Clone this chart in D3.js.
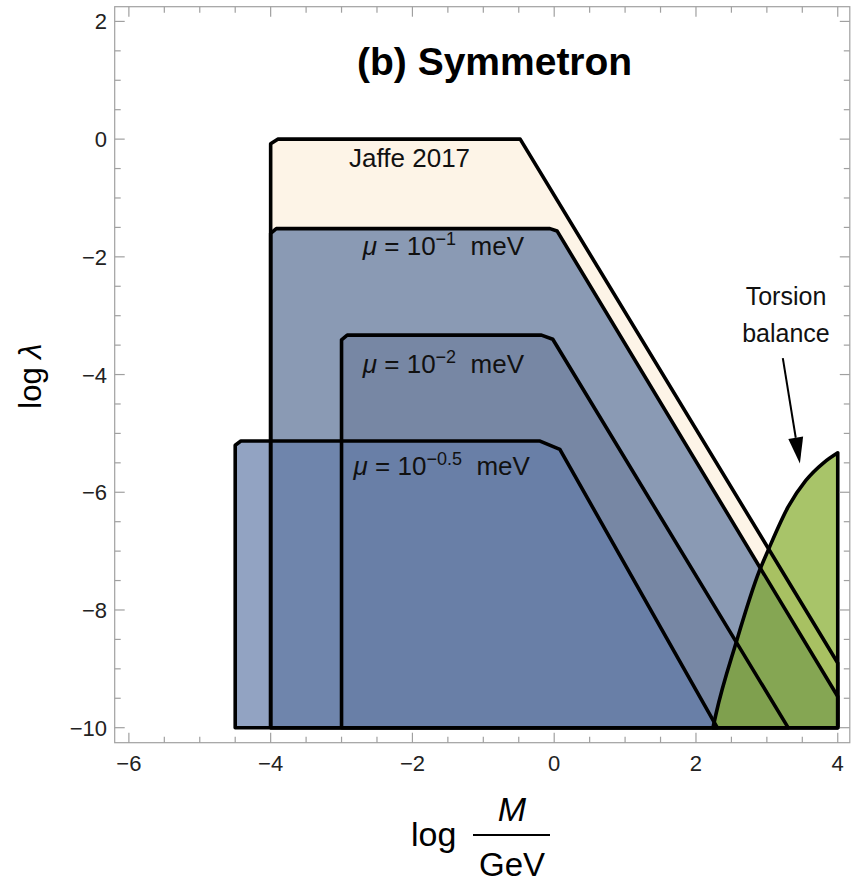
<!DOCTYPE html>
<html>
<head>
<meta charset="utf-8">
<script src="https://cdn.jsdelivr.net/npm/d3@7"></script>
<style>
  html, body { margin: 0; padding: 0; background: #fff; }
  svg { display: block; font-family: "Liberation Sans", Arial, sans-serif; }
</style>
</head>
<body>
<svg id="chart" width="861" height="883"></svg>
<script>
// Excluded regions in the (log M/GeV, log λ) plane, outlined as polygons
const jaffeRegion = [[-4,-10],[-4,-0.08],[-3.9,0],[-0.48,0],[4,-8.9],[4,-10]];
const mu1Region   = [[-4,-10],[-4,-1.6],[-3.92,-1.52],[-0.06,-1.52],[0.04,-1.56],[4,-9.47],[4,-10]];
const mu2Region   = [[-3,-10],[-3,-3.41],[-2.92,-3.33],[-0.18,-3.33],[-0.02,-3.4],[3.3,-10]];
const mu05Region  = [[-4.5,-10],[-4.5,-5.2],[-4.42,-5.13],[-0.2,-5.13],[0.08,-5.27],[2.3,-10]];
// Torsion-balance boundary curve (closed against the right edge and floor)
const torsionCurve = [[2.24,-10],[2.28,-9.78],[2.57,-8.54],[2.89,-7.35],[3.02,-6.98],[3.3,-6.25],[3.55,-5.8],[3.8,-5.5],[4,-5.33]];
const torsionClose = [[4,-5.33],[4,-10]];

// Axis ticks
const xMajor = [-6,-4,-2,0,2,4];
const yMajor = [2,0,-2,-4,-6,-8,-10];
const xMinor = d3.range(-6, 4.01, 0.5).filter(v => !xMajor.includes(v));
const yMinor = d3.range(-10, 2.01, 0.5).filter(v => !yMajor.includes(v));

// Annotation anchors (data coordinates)
const labels = [
  {parts: [{t: "Jaffe 2017"}], at: [-2.04, -0.47], anchor: "middle"},
  {parts: [{t: "μ", i: true}, {t: " = 10"}, {t: "−1", sup: true}, {t: "  meV"}], at: [-2.7, -1.97], anchor: "start"},
  {parts: [{t: "μ", i: true}, {t: " = 10"}, {t: "−2", sup: true}, {t: "  meV"}], at: [-2.7, -3.98], anchor: "start"},
  {parts: [{t: "μ", i: true}, {t: " = 10"}, {t: "−0.5", sup: true}, {t: "  meV"}], at: [-2.83, -5.71], anchor: "start"}
];
const torsionLabel = {lines: ["Torsion", "balance"], at: [3.27, -2.82]};
const arrowFrom = [3.225, -3.72];
const arrowTo = [3.466, -5.51];

const x = d3.scaleLinear().domain([-6.2, 4.17]).range([114.7, 849.8]);
const y = d3.scaleLinear().domain([-10.255, 2.25]).range([742.7, 6.7]);

const svg = d3.select("#chart");

const poly = d3.line().x(d => x(d[0])).y(d => y(d[1]));
const curveLine = d3.line().x(d => x(d[0])).y(d => y(d[1])).curve(d3.curveMonotoneX);
const torsionPath = curveLine(torsionCurve) + poly(torsionClose).replace(/^M[^L]*/, "") + "Z";

// Region fills (translucent, stacked), then every outline on top
const regions = [
  {d: poly(jaffeRegion) + "Z", fill: "#fdf4e7", op: 1},
  {d: poly(mu1Region) + "Z",   fill: "#7d90ae", op: 0.9},
  {d: poly(mu2Region) + "Z",   fill: "#5a6c8c", op: 0.4},
  {d: poly(mu05Region) + "Z",  fill: "#647ca8", op: 0.7},
  {d: torsionPath,             fill: "#83ab2a", op: 0.7}
];
svg.append("g").selectAll("path").data(regions).join("path")
  .attr("d", d => d.d).attr("fill", d => d.fill).attr("fill-opacity", d => d.op);
svg.append("g").selectAll("path").data(regions).join("path")
  .attr("d", d => d.d).attr("fill", "none")
  .attr("stroke", "#000").attr("stroke-width", 3.6).attr("stroke-linejoin", "round");

// Frame
const frame = svg.append("g");
frame.append("rect")
  .attr("x", x(-6.2)).attr("y", y(2.25))
  .attr("width", x(4.17) - x(-6.2)).attr("height", y(-10.255) - y(2.25))
  .attr("fill", "none").attr("stroke", "#a0a0a0").attr("stroke-width", 1.2);

// Ticks on all four sides, pointing inward
const tickColor = "#a0a0a0";
function xTicks(vals, len) {
  vals.forEach(v => {
    frame.append("line").attr("x1", x(v)).attr("x2", x(v))
      .attr("y1", y(-10.255)).attr("y2", y(-10.255) - len)
      .attr("stroke", tickColor).attr("stroke-width", 1.2);
    frame.append("line").attr("x1", x(v)).attr("x2", x(v))
      .attr("y1", y(2.25)).attr("y2", y(2.25) + len)
      .attr("stroke", tickColor).attr("stroke-width", 1.2);
  });
}
function yTicks(vals, len) {
  vals.forEach(v => {
    frame.append("line").attr("y1", y(v)).attr("y2", y(v))
      .attr("x1", x(-6.2)).attr("x2", x(-6.2) + len)
      .attr("stroke", tickColor).attr("stroke-width", 1.2);
    frame.append("line").attr("y1", y(v)).attr("y2", y(v))
      .attr("x1", x(4.17)).attr("x2", x(4.17) - len)
      .attr("stroke", tickColor).attr("stroke-width", 1.2);
  });
}
xTicks(xMajor, 10); xTicks(xMinor, 6);
yTicks(yMajor, 10); yTicks(yMinor, 6);

const fmt = v => (v < 0 ? "−" + Math.abs(v) : String(v));
svg.append("g").selectAll("text").data(xMajor).join("text")
  .attr("x", d => x(d)).attr("y", 771)
  .attr("text-anchor", "middle").attr("font-size", 22).attr("fill", "#222")
  .text(fmt);
svg.append("g").selectAll("text").data(yMajor).join("text")
  .attr("x", 107).attr("y", d => y(d) + 8)
  .attr("text-anchor", "end").attr("font-size", 22).attr("fill", "#222")
  .text(fmt);

// Region labels
labels.forEach(l => {
  const t = svg.append("text")
    .attr("x", x(l.at[0])).attr("y", y(l.at[1]))
    .attr("text-anchor", l.anchor).attr("font-size", 26).attr("fill", "#111")
    .attr("xml:space", "preserve");
  l.parts.forEach(p => {
    const s = t.append("tspan").text(p.t);
    if (p.i) s.attr("font-style", "italic");
    if (p.sup) s.attr("font-size", 18).attr("baseline-shift", "55%");
  });
});

// Torsion balance label and arrow
svg.append("text").attr("x", x(torsionLabel.at[0])).attr("y", y(torsionLabel.at[1]))
  .attr("text-anchor", "middle").attr("font-size", 25).attr("fill", "#111")
  .selectAll("tspan").data(torsionLabel.lines).join("tspan")
  .attr("x", x(torsionLabel.at[0])).attr("dy", (d, i) => i === 0 ? 0 : 37)
  .text(d => d);

const ax0 = x(arrowFrom[0]), ay0 = y(arrowFrom[1]);
const ax1 = x(arrowTo[0]), ay1 = y(arrowTo[1]);
const ang = Math.atan2(ay1 - ay0, ax1 - ax0);
const headLen = 26, headHalf = 7.5;
const bx = ax1 - headLen * Math.cos(ang), by = ay1 - headLen * Math.sin(ang);
svg.append("line").attr("x1", ax0).attr("y1", ay0).attr("x2", bx).attr("y2", by)
  .attr("stroke", "#000").attr("stroke-width", 2);
svg.append("path")
  .attr("d", `M${ax1},${ay1}L${bx + headHalf * Math.sin(ang)},${by - headHalf * Math.cos(ang)}L${bx - headHalf * Math.sin(ang)},${by + headHalf * Math.cos(ang)}Z`)
  .attr("fill", "#000");

// Title
svg.append("text").attr("x", 357).attr("y", 75)
  .attr("font-size", 39).attr("font-weight", "bold").attr("fill", "#000")
  .text("(b) Symmetron");

// Axis titles
const xl = svg.append("g");
xl.append("text").attr("x", 411).attr("y", 846).attr("font-size", 34).attr("fill", "#000").text("log");
xl.append("text").attr("x", 512).attr("y", 821).attr("text-anchor", "middle")
  .attr("font-size", 34).attr("font-style", "italic").attr("fill", "#000").text("M");
xl.append("line").attr("x1", 473).attr("x2", 550).attr("y1", 835).attr("y2", 835)
  .attr("stroke", "#000").attr("stroke-width", 2.2);
xl.append("text").attr("x", 512).attr("y", 876).attr("text-anchor", "middle")
  .attr("font-size", 33).attr("fill", "#000").text("GeV");

const yl = svg.append("text").attr("transform", "translate(41,376) rotate(-90)")
  .attr("text-anchor", "middle").attr("font-size", 31).attr("fill", "#000")
  .attr("xml:space", "preserve");
yl.append("tspan").text("log ");
yl.append("tspan").attr("font-style", "italic").text("λ");
</script>
</body>
</html>
